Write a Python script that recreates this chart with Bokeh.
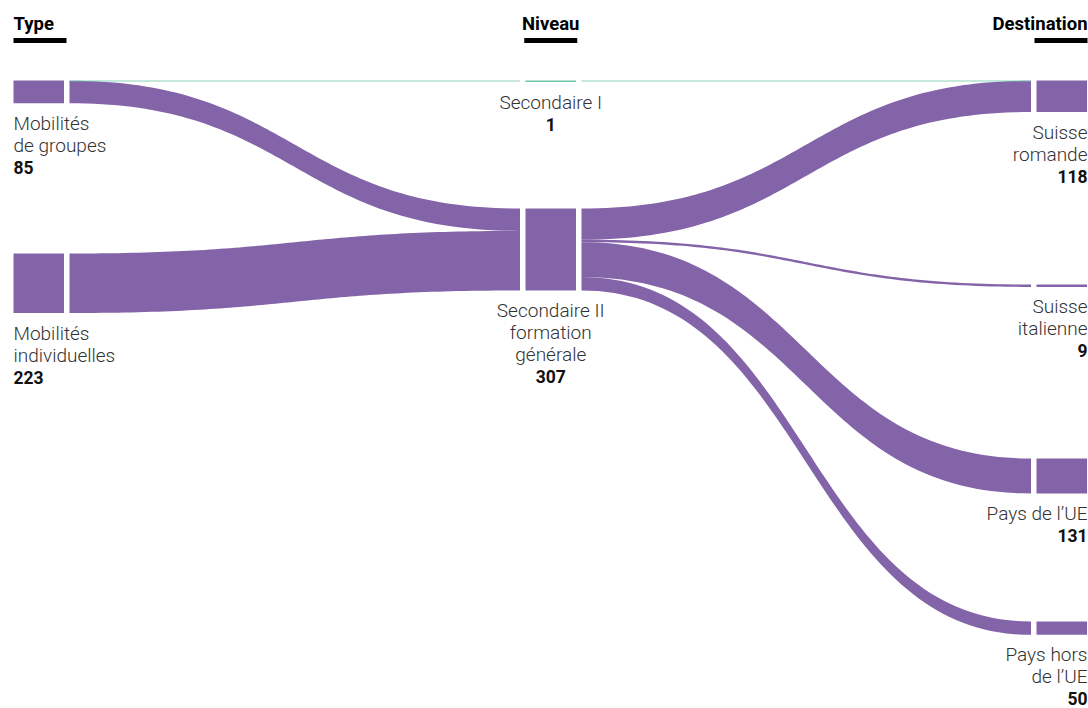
import numpy as np
from bokeh.plotting import figure
from bokeh.models import Range1d
from bokeh.core.properties import value
from bokeh.embed import file_html
from bokeh.resources import INLINE

# ---------------- data ----------------
column_titles = ["Type", "Niveau", "Destination"]

type_labels = [["Mobilités", "de groupes"], ["Mobilités", "individuelles"]]
type_values = [85, 223]

niveau_labels = [["Secondaire I"], ["Secondaire II", "formation", "générale"]]
niveau_values = [1, 307]

dest_labels = [["Suisse", "romande"], ["Suisse", "italienne"], ["Pays de l’UE"], ["Pays hors", "de l’UE"]]
dest_values = [118, 9, 131, 50]

# flows Type -> Niveau
flow1_src = [0, 0, 1]
flow1_tgt = [0, 1, 1]
flow1_val = [1, 84, 223]
# flows Niveau -> Destination
flow2_src = [0, 1, 1, 1, 1]
flow2_tgt = [0, 0, 1, 2, 3]
flow2_val = [1, 117, 9, 131, 50]

# ---------------- layout / style ----------------
PURPLE = "#8464a8"
TEAL = "#6cc5a8"
niveau_colors = [TEAL, PURPLE]
K = 0.267          # px per unit
NODE_W = 50.5
GAP = 5.5
col_left = [13, 525, 1036]
node_tops = [[80, 253], [80, 208], [80, 284, 458, 621]]
FONT = "Roboto"
LIGHT_FONT = "Roboto Light"
LABEL_COLOR = "#333333"
TXT_SHIFT = -6.0   # compensates the svg text baseline placement

columns_vals = [type_values, niveau_values, dest_values]
columns_labels = [type_labels, niveau_labels, dest_labels]

p = figure(width=1088, height=708, output_backend="svg", toolbar_location=None,
           x_range=Range1d(0, 1088), y_range=Range1d(708, 0),
           min_border=0, outline_line_color=None)
p.axis.visible = False
p.grid.visible = False
p.background_fill_color = "white"
p.border_fill_color = "white"


def band(x0, x1, y0, y1, t):
    s = np.linspace(0, 1, 80)
    xm = (x0 + x1) / 2
    bx = (1 - s) ** 3 * x0 + 3 * (1 - s) ** 2 * s * xm + 3 * (1 - s) * s ** 2 * xm + s ** 3 * x1
    by = 3 * (1 - s) * s ** 2 + s ** 3
    ytop = y0 + (y1 - y0) * by
    xs = np.concatenate([bx, bx[::-1]])
    ys = np.concatenate([ytop, (ytop + t)[::-1]])
    return xs, ys


def draw_flows(ci, src, tgt, vals, color_of):
    out_off = [0.0] * len(columns_vals[ci])
    in_off = [0.0] * len(columns_vals[ci + 1])
    thin_x, thin_y, thin_c = [], [], []
    pxs, pys, pcs = [], [], []
    for s, t, v in zip(src, tgt, vals):
        y0 = node_tops[ci][s] + out_off[s]
        y1 = node_tops[ci + 1][t] + in_off[t]
        out_off[s] += v * K
        in_off[t] += v * K
        x0 = col_left[ci] + NODE_W + GAP
        x1 = col_left[ci + 1] - GAP
        th = v * K
        c = color_of(s, t)
        if th < 1.2:
            xs, ys = band(x0, x1, y0 + 0.5, y1 + 0.5, 0)
            n = len(xs) // 2
            thin_x.append(list(xs[:n])); thin_y.append(list(ys[:n])); thin_c.append(c)
        else:
            xs, ys = band(x0, x1, y0, y1, th)
            pxs.append(list(xs)); pys.append(list(ys)); pcs.append(c)
    p.patches(pxs, pys, fill_color=pcs, line_color=None)
    if thin_x:
        p.multi_line(thin_x, thin_y, line_color=thin_c, line_width=1.2, line_alpha=0.8)


draw_flows(0, flow1_src, flow1_tgt, flow1_val, lambda s, t: niveau_colors[t])
draw_flows(1, flow2_src, flow2_tgt, flow2_val, lambda s, t: niveau_colors[s])

# nodes
for ci, vals in enumerate(columns_vals):
    left, right, top, bottom, colors = [], [], [], [], []
    for ni, v in enumerate(vals):
        h = max(v * K, 1.5)
        left.append(col_left[ci]); right.append(col_left[ci] + NODE_W)
        top.append(node_tops[ci][ni]); bottom.append(node_tops[ci][ni] + h)
        colors.append(niveau_colors[ni] if ci == 1 else PURPLE)
    p.quad(left=left, right=right, top=top, bottom=bottom, fill_color=colors, line_color=None)

# labels
aligns = ["left", "center", "right"]
anchor_x = [col_left[0], col_left[1] + NODE_W / 2, col_left[2] + NODE_W + 0.5]
for ci, vals in enumerate(columns_vals):
    lx, ly, lt = [], [], []
    vx, vy, vt = [], [], []
    for ni, v in enumerate(vals):
        bottom = node_tops[ci][ni] + max(v * K, 1.5)
        lines = columns_labels[ci][ni]
        for li, line in enumerate(lines):
            lx.append(anchor_x[ci]); ly.append(bottom + 26 + li * 22 + TXT_SHIFT); lt.append(line)
        vx.append(anchor_x[ci]); vy.append(bottom + 26 + len(lines) * 22 + TXT_SHIFT); vt.append(str(v))
    p.text(lx, ly, text=lt, text_align=aligns[ci], text_baseline="alphabetic",
           text_font=value(LIGHT_FONT), text_font_size="19px", text_color=LABEL_COLOR)
    p.text(vx, vy, text=vt, text_align=aligns[ci], text_baseline="alphabetic",
           text_font=value(FONT), text_font_size="17.5px", text_font_style="bold", text_color="#111111")

# column headers with underline bars
BAR_W = 53
bar_left = [col_left[0], col_left[1] + NODE_W / 2 - BAR_W / 2, col_left[2] + NODE_W + 0.5 - BAR_W]
p.quad(left=bar_left, right=[b + BAR_W for b in bar_left], top=[37.5] * 3, bottom=[42.5] * 3,
       fill_color="black", line_color=None)
p.text(anchor_x, [29.5 + TXT_SHIFT] * 3, text=column_titles, text_align=aligns, text_baseline="alphabetic",
       text_font=value(FONT), text_font_size="18.5px", text_font_style="bold", text_color="black")

open("out.html", "w").write(file_html(p, INLINE))
